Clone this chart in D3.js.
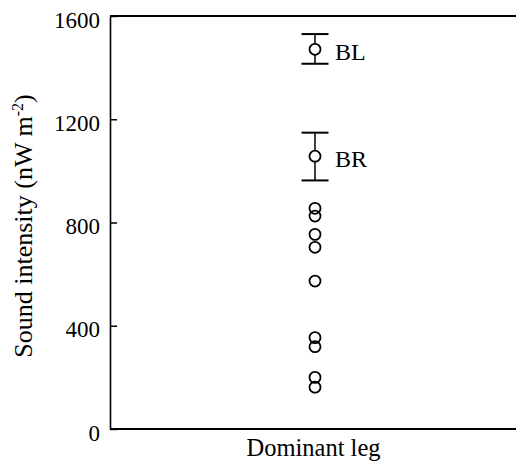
<!DOCTYPE html>
<html>
<head>
<meta charset="utf-8">
<script src="https://cdn.jsdelivr.net/npm/d3@7"></script>
<style>
  html, body { margin: 0; padding: 0; background: #fff; }
  svg { display: block; }
  svg text { font-family: "Liberation Serif", "Times New Roman", "DejaVu Serif", serif; fill: #000; }
</style>
</head>
<body>
<svg id="chart" width="516" height="462"></svg>
<script>
const categories = ["Dominant leg"];
const individualValues = [855, 825, 754, 704, 573, 354, 319, 200, 162];
const meanLabels = ["BL", "BR"];
const meanValues = [1471, 1057];
const meanUpper = [1530, 1148];
const meanLower = [1415, 963];
const yTicks = [0, 400, 800, 1200, 1600];
const yLabel = "Sound intensity (nW m";
const ySup = "-2";

(function () {
const svg = d3.select("#chart");
const mLeft = 110, mRight = 516, mTop = 16, mBottom = 429;

const y = d3.scaleLinear().domain([0, 1600]).range([mBottom, mTop]);
const x = d3.scalePoint().domain(categories).range([mLeft, mRight]).padding(0.5);

// frame lines: top and bottom
svg.append("line").attr("x1", mLeft).attr("x2", mRight).attr("y1", mTop).attr("y2", mTop)
  .attr("stroke", "#000").attr("stroke-width", 2);
svg.append("line").attr("x1", mLeft).attr("x2", mRight).attr("y1", mBottom).attr("y2", mBottom)
  .attr("stroke", "#000").attr("stroke-width", 2);

// y axis
const yAxis = svg.append("g").attr("transform", `translate(${mLeft},0)`)
  .call(d3.axisLeft(y).tickValues(yTicks).tickSizeInner(-7).tickSizeOuter(0).tickPadding(10).tickFormat(d3.format("d")));
yAxis.attr("font-family", null).attr("font-size", null);
yAxis.select(".domain").attr("stroke", "#000").attr("stroke-width", 1.6);
yAxis.selectAll(".tick line").attr("stroke", "#000").attr("stroke-width", 1.5);
yAxis.selectAll(".tick text").style("font-size", "23px").attr("dy", "0.48em").attr("fill", "#000");

// x axis (category label only)
const xAxis = svg.append("g").attr("transform", `translate(0,${mBottom})`)
  .call(d3.axisBottom(x).tickSize(0).tickPadding(10));
xAxis.attr("font-family", null).attr("font-size", null);
xAxis.select(".domain").remove();
xAxis.selectAll(".tick text").style("font-size", "24.5px").attr("fill", "#000");

// y label
const yl = svg.append("text")
  .attr("transform", `translate(32,226) rotate(-90)`)
  .attr("text-anchor", "middle")
  .style("font-size", "26px");
yl.append("tspan").text(yLabel);
yl.append("tspan").attr("dy", -9).style("font-size", "16px").text(ySup);
yl.append("tspan").attr("dy", 9).text(")");

const cx = x(categories[0]) + 2;

// individual points
svg.append("g").selectAll("circle").data(individualValues).join("circle")
  .attr("cx", cx).attr("cy", d => y(d)).attr("r", 5.5)
  .attr("fill", "none").attr("stroke", "#000").attr("stroke-width", 1.8);

// means with error bars
const capW = 13.5;
const mg = svg.append("g");
meanValues.forEach((v, i) => {
  mg.append("line").attr("x1", cx).attr("x2", cx).attr("y1", y(meanUpper[i])).attr("y2", y(meanLower[i]))
    .attr("stroke", "#000").attr("stroke-width", 1.5);
  [meanUpper[i], meanLower[i]].forEach(e => {
    mg.append("line").attr("x1", cx - capW).attr("x2", cx + capW).attr("y1", y(e)).attr("y2", y(e))
      .attr("stroke", "#000").attr("stroke-width", 2);
  });
  mg.append("circle").attr("cx", cx).attr("cy", y(v)).attr("r", 5.5)
    .attr("fill", "#fff").attr("stroke", "#000").attr("stroke-width", 1.8);
  mg.append("text").attr("x", cx + 20).attr("y", y(v) + 11).style("font-size", "24px").text(meanLabels[i]);
});
})();
</script>
</body>
</html>
